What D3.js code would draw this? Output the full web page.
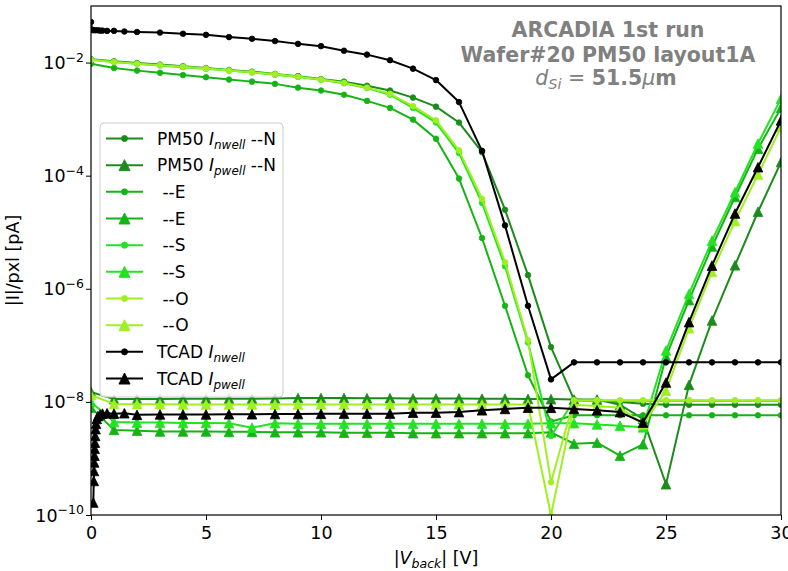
<!DOCTYPE html>
<html>
<head>
<meta charset="utf-8">
<script src="https://cdn.jsdelivr.net/npm/d3@7"></script>
<style>
  body { margin: 0; background: #fff; }
  svg { display: block; font-family: "DejaVu Sans", sans-serif; }
  text { white-space: pre; }
</style>
</head>
<body>
<svg id="chart" width="788" height="571"></svg>
<script>
// Back-bias voltage steps of the probe-station scans [V]
const vMeas = [0,1,2,3,4,5,6,7,8,9,10,11,12,13,14,15,16,17,18,19,20,21,22,23,24,25,26,27,28,29,30];

// PM50 measured currents per pixel [pA], four sides of the matrix (N, E, S, O)
const nwellN = [1.15e-2,1.05e-2,9.8e-3,9.2e-3,8.6e-3,8.0e-3,7.4e-3,6.9e-3,6.3e-3,5.75e-3,5.1e-3,4.6e-3,3.9e-3,3.2e-3,2.4e-3,1.66e-3,8.7e-4,2.6e-4,2.5e-5,1.74e-6,9.3e-8,1.1e-8,1.05e-8,1.0e-8,9.3e-9,8.9e-9,8.9e-9,8.9e-9,8.9e-9,8.9e-9,8.9e-9];
const pwellN = [1.5e-8,1.12e-8,1.12e-8,1.12e-8,1.14e-8,1.14e-8,1.14e-8,1.14e-8,1.15e-8,1.17e-8,1.17e-8,1.17e-8,1.16e-8,1.16e-8,1.15e-8,1.15e-8,1.15e-8,1.14e-8,1.14e-8,1.13e-8,1.12e-8,1.1e-8,1.1e-8,8.9e-9,5.0e-9,3.5e-10,2.0e-8,2.75e-7,2.6e-6,2.3e-5,1.74e-4];
const nwellE = [9.5e-3,8.0e-3,7.2e-3,6.6e-3,6.0e-3,5.5e-3,5.0e-3,4.6e-3,4.2e-3,3.6e-3,3.2e-3,2.7e-3,2.1e-3,1.58e-3,9.8e-4,4.5e-4,8.9e-5,7.9e-6,5.0e-7,2.95e-8,4.5e-9,5.8e-9,5.8e-9,5.8e-9,5.8e-9,5.8e-9,5.8e-9,5.8e-9,5.8e-9,5.8e-9,5.8e-9];
const pwellE = [7.9e-9,3.2e-9,3.1e-9,3.0e-9,3.0e-9,3.0e-9,2.95e-9,2.95e-9,2.9e-9,2.9e-9,2.9e-9,2.85e-9,2.85e-9,2.85e-9,2.8e-9,2.8e-9,2.8e-9,2.8e-9,2.8e-9,2.8e-9,2.9e-9,1.82e-9,1.9e-9,1.12e-9,1.78e-9,6.3e-8,6.3e-7,5.6e-6,4.2e-5,3.0e-4,1.58e-3];
const nwellS = [1.12e-2,1.02e-2,9.5e-3,8.9e-3,8.3e-3,7.8e-3,7.2e-3,6.7e-3,6.1e-3,5.55e-3,4.95e-3,4.3e-3,3.55e-3,2.7e-3,1.58e-3,8.7e-4,2.5e-4,3.3e-5,2.5e-6,1.12e-7,2.5e-9,1.05e-8,1.05e-8,1.05e-8,1.05e-8,1.05e-8,1.05e-8,1.05e-8,1.05e-8,1.05e-8,1.05e-8];
const pwellS = [1.0e-8,4.4e-9,4.3e-9,4.3e-9,4.25e-9,4.25e-9,4.2e-9,3.5e-9,4.2e-9,4.1e-9,4.1e-9,4.1e-9,4.1e-9,4.1e-9,4.1e-9,4.1e-9,4.1e-9,4.1e-9,4.1e-9,4.1e-9,4.2e-9,4.2e-9,4.0e-9,3.8e-9,3.55e-9,8.1e-8,8.1e-7,7.1e-6,5.1e-5,3.7e-4,2.3e-3];
const nwellO = [1.12e-2,1.02e-2,9.55e-3,9.0e-3,8.4e-3,7.85e-3,7.25e-3,6.75e-3,6.2e-3,5.6e-3,5.0e-3,4.4e-3,3.6e-3,2.8e-3,1.7e-3,9.5e-4,2.8e-4,3.9e-5,2.95e-6,1.23e-7,3.8e-10,1.07e-8,1.07e-8,1.07e-8,1.07e-8,1.07e-8,1.07e-8,1.07e-8,1.07e-8,1.07e-8,1.07e-8];
const pwellO = [1.32e-8,9.2e-9,9.1e-9,9.1e-9,9.0e-9,9.0e-9,9.0e-9,9.0e-9,9.0e-9,9.0e-9,9.0e-9,9.0e-9,9.0e-9,9.0e-9,9.0e-9,9.0e-9,9.0e-9,9.0e-9,9.0e-9,9.0e-9,1.0e-10,8.9e-9,8.5e-9,7.9e-9,4.0e-9,1.58e-8,2.0e-7,2.0e-6,1.58e-5,1.05e-4,7.2e-4];

// TCAD simulation, finer steps at low bias [V] and currents [pA]
const vTcadN = [0,0.05,0.1,0.2,0.3,0.4,0.5,0.7,1,1.45,2,3,4,5,6,7,8,9,10,11,12,13,14,15,16,17,18,19,20,21,22,23,24,25,26,27,28,29,30];
const tcadNwell = [5.2e-2,3.8e-2,3.72e-2,3.72e-2,3.72e-2,3.67e-2,3.67e-2,3.63e-2,3.63e-2,3.55e-2,3.47e-2,3.39e-2,3.24e-2,3.09e-2,2.82e-2,2.63e-2,2.4e-2,2.14e-2,1.95e-2,1.62e-2,1.38e-2,1.1e-2,7.8e-3,4.9e-3,2.0e-3,2.75e-4,1.32e-5,5.0e-7,2.5e-8,5.0e-8,5.0e-8,5.0e-8,5.0e-8,5.0e-8,5.0e-8,5.0e-8,5.0e-8,5.0e-8,5.0e-8];
const vTcadP = [0.1,0.12,0.13,0.14,0.15,0.16,0.17,0.18,0.2,0.22,0.25,0.3,0.4,0.5,0.7,1,1.45,2,3,4,5,6,7,8,9,10,11,12,13,14,15,16,17,18,19,20,21,22,23,24,25,26,27,28,29,30];
const tcadPwell = [1.66e-10,4.0e-10,6.0e-10,8.5e-10,1.12e-9,1.48e-9,1.9e-9,2.5e-9,3.3e-9,4.1e-9,5.0e-9,5.6e-9,6.0e-9,6.2e-9,6.3e-9,6.2e-9,6.3e-9,5.9e-9,6.0e-9,6.0e-9,6.0e-9,6.05e-9,6.05e-9,6.1e-9,6.1e-9,6.15e-9,6.2e-9,6.2e-9,6.2e-9,6.45e-9,6.45e-9,6.6e-9,7.1e-9,7.5e-9,7.9e-9,7.85e-9,7.5e-9,7.1e-9,6.6e-9,4.3e-9,2.2e-8,2.57e-7,2.57e-6,2.14e-5,1.41e-4,9.5e-4];

const xTicks = [0,5,10,15,20,25,30];
const yTickExps = [-10,-8,-6,-4,-2];

const series = [
  { x: vMeas, y: nwellN, color: "#1b8c1b", marker: "circle",   label: ["PM50 ", "I", "nwell", " --N"] },
  { x: vMeas, y: pwellN, color: "#1b8c1b", marker: "triangle", label: ["PM50 ", "I", "pwell", " --N"] },
  { x: vMeas, y: nwellE, color: "#15b415", marker: "circle",   label: [" --E"] },
  { x: vMeas, y: pwellE, color: "#15b415", marker: "triangle", label: [" --E"] },
  { x: vMeas, y: nwellS, color: "#22e222", marker: "circle",   label: [" --S"] },
  { x: vMeas, y: pwellS, color: "#22e222", marker: "triangle", label: [" --S"] },
  { x: vMeas, y: nwellO, color: "#9ef020", marker: "circle",   label: [" --O"] },
  { x: vMeas, y: pwellO, color: "#9ef020", marker: "triangle", label: [" --O"] },
  { x: vTcadN, y: tcadNwell, color: "#000000", marker: "circle",   label: ["TCAD ", "I", "nwell"] },
  { x: vTcadP, y: tcadPwell, color: "#000000", marker: "triangle", label: ["TCAD ", "I", "pwell"] }
];

const svg = d3.select("#chart");
const plot = { left: 91, top: 6, right: 781, bottom: 515 };

const x = d3.scaleLinear().domain([0, 30]).range([plot.left, plot.right]);
const y = d3.scaleLog().domain([1e-10, 1e-1]).range([plot.bottom, plot.top]);

svg.append("defs").append("clipPath").attr("id", "plotclip")
  .append("rect")
  .attr("x", plot.left).attr("y", plot.top - 1)
  .attr("width", plot.right - plot.left).attr("height", plot.bottom - plot.top + 1);

const triPath = "M0,-4.8L4.8,4.8L-4.8,4.8Z";

function drawMarker(g, kind, color, cx, cy, scale) {
  if (kind === "circle") {
    g.append("circle").attr("cx", cx).attr("cy", cy).attr("r", 2.8 * scale)
      .attr("fill", color).attr("stroke", color).attr("stroke-width", 0.8);
  } else {
    g.append("path").attr("d", triPath)
      .attr("transform", `translate(${cx},${cy}) scale(${scale})`)
      .attr("fill", color).attr("stroke", color).attr("stroke-width", 0.8);
  }
}

const data = g => g.x.map((v, i) => [v, g.y[i]]);
const line = d3.line().x(d => x(d[0])).y(d => y(Math.max(d[1], 1e-10)));

const lines = svg.append("g").attr("clip-path", "url(#plotclip)");
series.forEach(s => {
  const pts = data(s);
  const g = lines.append("g");
  g.append("path").attr("d", line(pts)).attr("fill", "none")
    .attr("stroke", s.color).attr("stroke-width", 2).attr("stroke-linejoin", "round");
  pts.forEach(p => drawMarker(g, s.marker, s.color, x(p[0]), y(Math.max(p[1], 1e-10)), 1));
});

// frame
svg.append("rect")
  .attr("x", plot.left).attr("y", plot.top)
  .attr("width", plot.right - plot.left).attr("height", plot.bottom - plot.top)
  .attr("fill", "none").attr("stroke", "#000").attr("stroke-width", 1.2);

// x axis
const xAxis = svg.append("g").attr("transform", `translate(0,${plot.bottom})`)
  .call(d3.axisBottom(x).tickValues(xTicks).tickSize(5).tickPadding(7).tickFormat(d3.format("d")));
xAxis.select(".domain").remove();
xAxis.selectAll("text").attr("font-size", 17.5).attr("fill", "#000")
  .attr("font-family", "DejaVu Sans");

// y axis with power-of-ten labels
const yAxis = svg.append("g").attr("transform", `translate(${plot.left},0)`)
  .call(d3.axisLeft(y).tickValues(yTickExps.map(e => Math.pow(10, e))).tickSize(5).tickFormat(""));
yAxis.select(".domain").remove();
yAxis.selectAll(".tick line").attr("stroke", "#000");
yTickExps.forEach(e => {
  const t = svg.append("text").attr("x", 84).attr("y", y(Math.pow(10, e)) + 6.5)
    .attr("text-anchor", "end").attr("font-size", 17.5);
  t.append("tspan").text("10");
  t.append("tspan").attr("dy", -7.5).attr("font-size", 12.5).text("\u2212" + Math.abs(e));
});

// axis labels
const xl = svg.append("text").attr("x", (plot.left + plot.right) / 2).attr("y", 564)
  .attr("text-anchor", "middle").attr("font-size", 17.5);
xl.append("tspan").text("|");
xl.append("tspan").attr("font-style", "italic").text("V");
xl.append("tspan").attr("font-style", "italic").attr("font-size", 12.5).attr("dy", 4).text("back");
xl.append("tspan").attr("dy", -4).text("| [V]");

svg.append("text").attr("transform", `translate(19,${(plot.top + plot.bottom) / 2}) rotate(-90)`)
  .attr("text-anchor", "middle").attr("font-size", 17.5).text("|I|/pxl [pA]");

// run annotation
const ann = svg.append("g").attr("fill", "#808080").attr("text-anchor", "middle");
ann.append("text").attr("x", 608).attr("y", 37).attr("font-size", 20.5).attr("font-weight", "bold")
  .text("ARCADIA 1st run");
ann.append("text").attr("x", 608).attr("y", 62).attr("font-size", 20.5).attr("font-weight", "bold")
  .text("Wafer#20 PM50 layout1A");
const a3 = ann.append("text").attr("x", 606).attr("y", 85).attr("font-size", 20.5);
a3.append("tspan").attr("font-style", "italic").text("d");
a3.append("tspan").attr("font-style", "italic").attr("font-size", 14.5).attr("dy", 4).text("Si");
a3.append("tspan").attr("dy", -4).text(" = ");
a3.append("tspan").attr("font-weight", "bold").text("51.5");
a3.append("tspan").attr("font-style", "italic").text("\u03bc");
a3.append("tspan").attr("font-weight", "bold").text("m");

// legend
const leg = svg.append("g");
leg.append("rect").attr("x", 100).attr("y", 123).attr("width", 183).attr("height", 274)
  .attr("rx", 4).attr("fill", "#fff").attr("fill-opacity", 0.8)
  .attr("stroke", "#cccccc").attr("stroke-width", 1);
series.forEach((s, i) => {
  const cy = 138.5 + i * 26.67;
  leg.append("line").attr("x1", 106).attr("x2", 143).attr("y1", cy).attr("y2", cy)
    .attr("stroke", s.color).attr("stroke-width", 2);
  drawMarker(leg, s.marker, s.color, 124.5, cy, s.marker === "triangle" ? 1.15 : 1.1);
  const t = leg.append("text").attr("x", 157).attr("y", cy + 6).attr("font-size", 17);
  if (s.label.length === 1) {
    t.text(s.label[0]);
  } else {
    t.append("tspan").text(s.label[0]);
    t.append("tspan").attr("font-style", "italic").text(s.label[1]);
    t.append("tspan").attr("font-style", "italic").attr("font-size", 12).attr("dy", 4).text(s.label[2]);
    if (s.label[3]) t.append("tspan").attr("dy", -4).text(s.label[3]);
  }
});
</script>
</body>
</html>
